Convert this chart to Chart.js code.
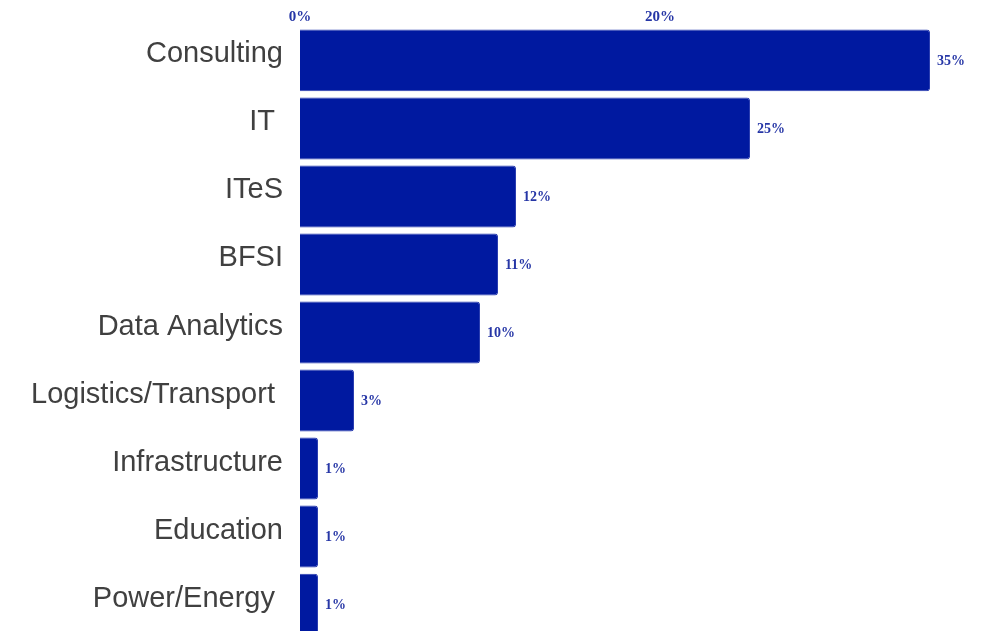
<!DOCTYPE html>
<html>
<head>
<meta charset="utf-8">
<script src="https://cdn.jsdelivr.net/npm/chart.js@4"></script>
<style>
  html, body { margin: 0; padding: 0; background: #fff; overflow: hidden; }
  #wrap { width: 990px; height: 665px; }
</style>
</head>
<body>
<div id="wrap"><canvas id="grafico"></canvas></div>
<script>
// datos del grafico
const sectores = ['Consulting', 'IT ', 'ITeS', 'BFSI', 'Data Analytics', 'Logistics/Transport ', 'Infrastructure', 'Education', 'Power/Energy '];
const porcentajes = [35, 25, 12, 11, 10, 3, 1, 1, 1];
const ticksX = [0, 20];

const azul = '#0019a0';
const azulTexto = '#2636a6';

// etiquetas al final de cada barra
const etiquetasBarras = {
    id: 'etiquetasBarras',
    afterDatasetsDraw(chart) {
        const ctx = chart.ctx;
        const meta = chart.getDatasetMeta(0);
        ctx.save();
        ctx.font = 'bold 14px "Liberation Serif"';
        ctx.fillStyle = azulTexto;
        ctx.textAlign = 'left';
        ctx.textBaseline = 'middle';
        meta.data.forEach((bar, i) => {
            ctx.fillText(porcentajes[i] + '%', bar.x + 7, bar.y + 1);
        });
        ctx.restore();
    }
};

const ctx = document.getElementById('grafico').getContext('2d');
new Chart(ctx, {
    type: 'bar',
    data: {
        labels: sectores,
        datasets: [{
            data: porcentajes,
            backgroundColor: azul,
            borderColor: '#2a3db0',
            borderWidth: 1,
            borderRadius: 3,
            barPercentage: 0.91,
            categoryPercentage: 1
        }]
    },
    options: {
        indexAxis: 'y',
        responsive: true,
        maintainAspectRatio: false,
        animation: false,
        layout: { padding: { top: 0, right: 6, bottom: 0, left: 0 } },
        scales: {
            x: {
                position: 'top',
                min: 0,
                max: 38,
                grid: { display: false, drawTicks: false },
                border: { display: false },
                afterFit: (scale) => { scale.height = 20; },
                afterBuildTicks: (scale) => { scale.ticks = ticksX.map(v => ({ value: v })); },
                ticks: {
                    color: azulTexto,
                    padding: 0,
                    font: { family: '"Liberation Serif"', size: 15, weight: 'bold' },
                    callback: (value) => value + '%'
                }
            },
            y: {
                grid: { display: false },
                border: { display: false },
                afterFit: (scale) => { scale.width = 300; },
                ticks: {
                    color: '#404040',
                    padding: 9,
                    labelOffset: -6,
                    font: { family: '"Liberation Sans", Arial', size: 29 }
                }
            }
        },
        plugins: {
            legend: { display: false },
            tooltip: { enabled: false }
        }
    },
    plugins: [etiquetasBarras]
});
</script>
</body>
</html>
